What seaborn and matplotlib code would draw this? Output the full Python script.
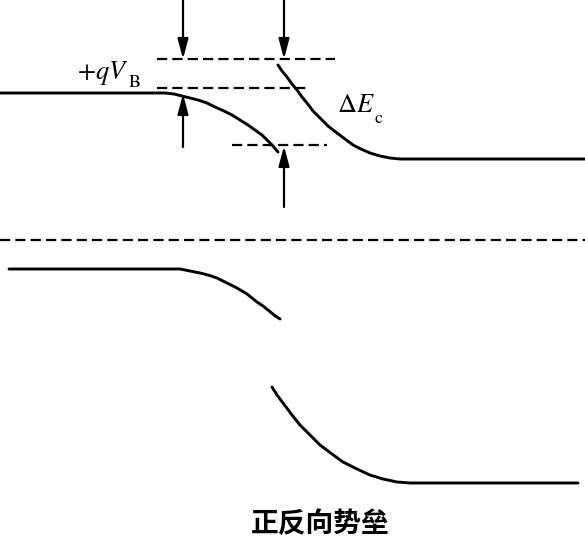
import matplotlib
matplotlib.use("Agg")
import matplotlib.pyplot as plt
import numpy as np
import pandas as pd
import seaborn as sns

sns.set_theme(style="white")
plt.rcParams['font.family'] = ['Noto Sans CJK SC', 'DejaVu Sans']
plt.rcParams['mathtext.fontset'] = 'stix'

# band edges (pixel coords, y down)
cb_left_x = [0, 165, 174, 182, 190, 198, 207, 215, 224, 232, 240, 248, 255, 262, 267, 272, 278]
cb_left_y = [93, 93, 94, 96, 98, 100, 103, 107, 111, 115, 120, 125, 130, 135, 140, 145, 152]
cb_right_x = [278, 282, 287, 292, 297, 302, 307, 313, 320, 328, 337, 345, 353, 361, 370, 380, 390, 400, 410, 585]
cb_right_y = [65, 71, 77, 84, 90, 97, 103, 111, 118, 126, 133, 139, 145, 149, 153, 156, 158, 159, 159, 159]
vb_left_x = [9, 180, 190, 200, 208, 217, 227, 237, 247, 257, 263, 268, 274, 280]
vb_left_y = [269, 269, 271, 273, 275, 278, 283, 288, 294, 302, 306, 310, 315, 319]
vb_right_x = [272, 277, 283, 292, 300, 310, 320, 332, 343, 357, 370, 383, 397, 410, 578]
vb_right_y = [387, 395, 403, 415, 425, 435, 445, 454, 462, 469, 475, 479, 482, 483, 483]

# dashed reference levels
level_y = [59, 88, 145, 240]
level_x0 = [157, 157, 232, 0]
level_x1 = [335, 309, 327, 585]

# arrows: x, tail y, head y
arrow_x = [183, 284, 183, 284]
arrow_from = [0, 0, 147, 207]
arrow_to = [59, 59, 94, 146]

label_vb = r'$+qV$'
label_vb_sub = r'$\mathrm{B}$'
label_dec = r'$\Delta E$'
label_dec_sub = r'$\mathrm{c}$'
caption = '正反向势垒'

curves = pd.concat([
    pd.DataFrame({'x': cb_left_x, 'y': cb_left_y, 'curve': 'cb_left'}),
    pd.DataFrame({'x': cb_right_x, 'y': cb_right_y, 'curve': 'cb_right'}),
    pd.DataFrame({'x': vb_left_x, 'y': vb_left_y, 'curve': 'vb_left'}),
    pd.DataFrame({'x': vb_right_x, 'y': vb_right_y, 'curve': 'vb_right'}),
], ignore_index=True)

fig = plt.figure(figsize=(5.85, 5.38), dpi=100)
ax = fig.add_axes([0, 0, 1, 1])

sns.lineplot(data=curves, x='x', y='y', units='curve', estimator=None,
             sort=False, color='black', linewidth=2.1, ax=ax)
for line in ax.get_lines():
    line.set_solid_joinstyle('round')

for y, x0, x1 in zip(level_y, level_x0, level_x1):
    ax.plot([x0, x1], [y, y], color='black', linewidth=1.6,
            dashes=(4.6, 2.3), solid_capstyle='butt')

for x, y0, y1 in zip(arrow_x, arrow_from, arrow_to):
    ax.annotate('', xy=(x, y1), xytext=(x, y0),
                arrowprops=dict(arrowstyle='-|>,head_length=0.6,head_width=0.16',
                                color='black', lw=1.6, shrinkA=0, shrinkB=0,
                                mutation_scale=20))

# labels, subscripts set low as in the original
ax.text(77, 79, label_vb, fontsize=19, ha='left', va='baseline', color='black')
ax.text(128, 87, label_vb_sub, fontsize=13, ha='left', va='baseline', color='black')
ax.text(337, 112, label_dec, fontsize=19, ha='left', va='baseline', color='black')
ax.text(374, 123, label_dec_sub, fontsize=13, ha='left', va='baseline', color='black')
ax.text(320, 524, caption, fontsize=20, fontweight='bold', ha='center',
        va='center', color='black')

ax.set_xlim(0, 585)
ax.set_ylim(538, 0)
ax.axis('off')

fig.savefig('out.png', dpi=100, facecolor='white')
